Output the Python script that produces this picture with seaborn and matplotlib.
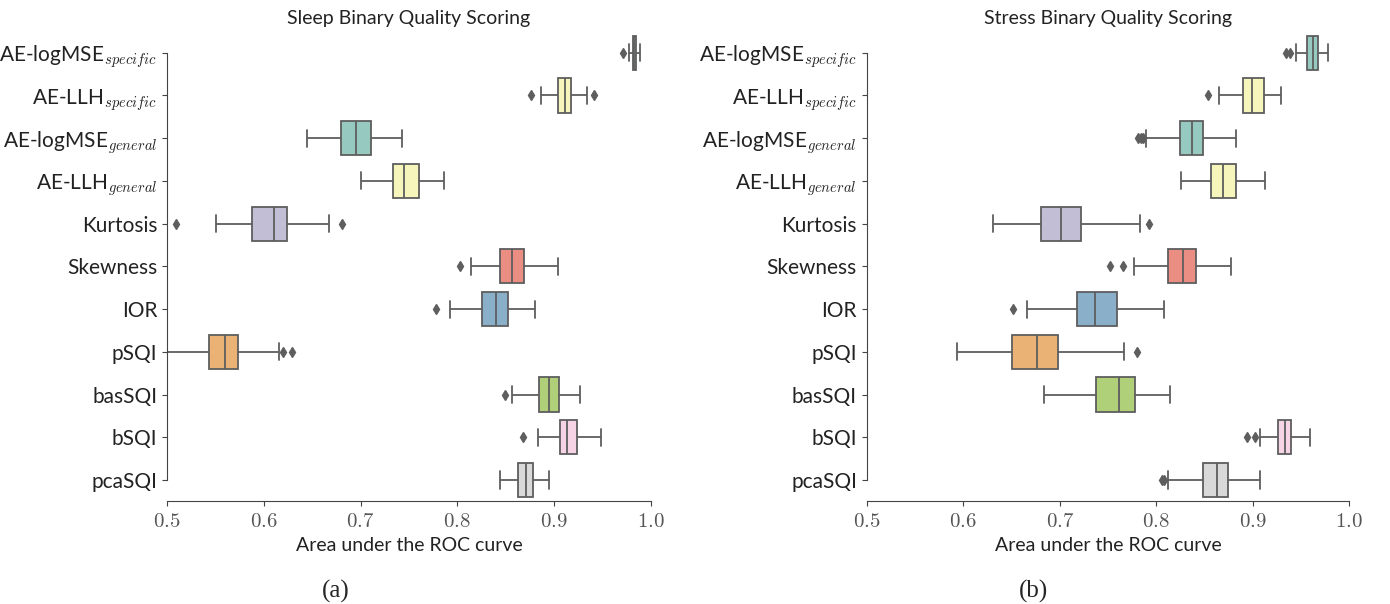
import numpy as np
import pandas as pd
import seaborn as sns
import matplotlib
matplotlib.use("Agg")
import matplotlib.pyplot as plt
from matplotlib.ticker import FuncFormatter

# ---------------- data (box statistics) ----------------
categories = [r"AE-logMSE$_{specific}$", r"AE-LLH$_{specific}$",
              r"AE-logMSE$_{general}$", r"AE-LLH$_{general}$",
              "Kurtosis", "Skewness", "IOR", "pSQI", "basSQI", "bSQI", "pcaSQI"]

# Sleep
sleep_q1 = [0.9814, 0.9038, 0.6803, 0.7331, 0.5883, 0.8445, 0.8259, 0.5438, 0.8840, 0.9060, 0.8631]
sleep_med = [0.9830, 0.9117, 0.6955, 0.7448, 0.6110, 0.8569, 0.8400, 0.5600, 0.8952, 0.9138, 0.8707]
sleep_q3 = [0.9848, 0.9176, 0.7103, 0.7607, 0.6245, 0.8693, 0.8528, 0.5735, 0.9055, 0.9235, 0.8786]
sleep_lo = [0.9772, 0.8862, 0.6452, 0.7007, 0.5507, 0.8141, 0.7928, 0.5005, 0.8566, 0.8831, 0.8438]
sleep_hi = [0.9890, 0.9341, 0.7431, 0.7859, 0.6672, 0.9038, 0.8807, 0.6155, 0.9269, 0.9479, 0.8952]
sleep_fliers = [[0.9714], [0.8766, 0.9407], [], [], [0.5090, 0.6810], [0.8024],
                [0.7776], [0.6203, 0.6297], [0.8490], [0.8679], []]

# Stress
stress_q1 = [0.9565, 0.8902, 0.8246, 0.8564, 0.6806, 0.8122, 0.7175, 0.6502, 0.7379, 0.9261, 0.8488]
stress_med = [0.9627, 0.8992, 0.8367, 0.8691, 0.7013, 0.8277, 0.7369, 0.6765, 0.7614, 0.9333, 0.8629]
stress_q3 = [0.9675, 0.9120, 0.8488, 0.8829, 0.7224, 0.8408, 0.7593, 0.6982, 0.7776, 0.9399, 0.8740]
stress_lo = [0.9444, 0.8646, 0.7896, 0.8256, 0.6312, 0.7769, 0.6657, 0.5936, 0.6834, 0.9078, 0.8122]
stress_hi = [0.9782, 0.9289, 0.8829, 0.9123, 0.7835, 0.8774, 0.8080, 0.7669, 0.8139, 0.9593, 0.9075]
stress_fliers = [[0.9344, 0.9385], [0.8532], [0.7810, 0.7840, 0.7868], [], [0.7925],
                 [0.7521, 0.7659], [0.6520], [0.7804], [], [0.8936, 0.9026], [0.8063, 0.8080]]

titles = ["Sleep Binary Quality Scoring", "Stress Binary Quality Scoring"]
xlabel = "Area under the ROC curve"
captions = ["(a)", "(b)"]
xticks = [0.5, 0.6, 0.7, 0.8, 0.9, 1.0]

set3 = sns.color_palette("Set3", 12)
palette = [set3[0], set3[1], set3[0], set3[1], set3[2], set3[3],
           set3[4], set3[5], set3[6], set3[7], set3[8]]


def build_frame(q1, med, q3, lo, hi, fliers):
    rows = []
    for cat, a, m, b, l, h, fl in zip(categories, q1, med, q3, lo, hi, fliers):
        vals = [f for f in fl if f < a] + [l] + [a] * 10 + [m] * 10 + [b] * 10 + [h] + \
               [f for f in fl if f > b]
        rows += [(cat, v) for v in vals]
    return pd.DataFrame(rows, columns=["method", "auc"])


frames = [build_frame(sleep_q1, sleep_med, sleep_q3, sleep_lo, sleep_hi, sleep_fliers),
          build_frame(stress_q1, stress_med, stress_q3, stress_lo, stress_hi, stress_fliers)]

# ---------------- plot ----------------
sns.set_style("ticks")
plt.rcParams["font.family"] = ["Lato", "DejaVu Sans"]
plt.rcParams["mathtext.fontset"] = "cm"

fig = plt.figure(figsize=(13.9, 6.04), dpi=100)
positions = [[0.1201, 0.170, 0.3482, 0.778], [0.6235, 0.170, 0.3472, 0.778]]
caption_x = [336 / 1390, 1034 / 1390]

line_col = "#5e5e5e"
for i, df in enumerate(frames):
    ax = fig.add_axes(positions[i])
    sns.boxplot(data=df, x="auc", y="method", hue="method", order=categories,
                hue_order=categories, palette=palette, orient="h", width=0.8,
                linecolor=line_col, linewidth=1.3, legend=False, ax=ax,
                flierprops=dict(marker="d", markerfacecolor=line_col,
                                markeredgecolor=line_col, markersize=5))
    ax.set_xlim(0.5, 1.0)
    ax.set_xticks(xticks)
    ax.xaxis.set_major_formatter(FuncFormatter(lambda v, p: f"${v:.1f}$"))
    ax.tick_params(axis="x", labelsize=15, colors="#444444", labelcolor="#555555")
    ax.tick_params(axis="y", labelsize=15, colors="#444444", labelcolor="#222222")
    ax.set_ylabel("")
    ax.set_xlabel(xlabel, fontsize=14, color="#222222")
    ax.set_title(titles[i], fontsize=14, color="#222222", pad=5)
    sns.despine(ax=ax, trim=True)
    for s in ax.spines.values():
        s.set_color("#444444")
    fig.text(caption_x[i], 1 - 591 / 604, captions[i], ha="center", va="center",
             fontsize=18, family="Liberation Serif")

fig.savefig("out.png", dpi=100)
